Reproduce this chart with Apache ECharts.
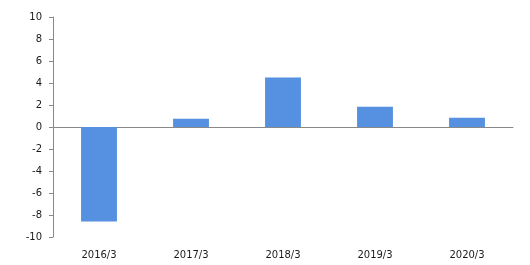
<!DOCTYPE html>
<html>
<head>
<meta charset="utf-8">
<style>html,body{margin:0;padding:0;background:#fff;}#c{width:530px;height:265px;}</style>
<script src="https://cdn.jsdelivr.net/npm/echarts@6/dist/echarts.min.js"></script>
</head>
<body>
<div id="c"></div>
<script>
var categories = ['2016/3', '2017/3', '2018/3', '2019/3', '2020/3'];
var values = [-8.6, 0.75, 4.5, 1.85, 0.85];
var yMin = -10, yMax = 10, yStep = 2;

var chart = echarts.init(document.getElementById('c'));
var font = 'DejaVu Sans, Verdana, sans-serif';
chart.setOption({
  animation: false,
  grid: {left: 53, right: 17, top: 17, bottom: 28, containLabel: false},
  xAxis: [{
    type: 'category', data: categories, position: 'bottom',
    axisLine: {show: false, onZero: false}, axisTick: {show: false},
    axisLabel: {color: '#1a1a1a', fontSize: 10, fontFamily: font, margin: 13}
  }, {
    type: 'category', data: categories, position: 'bottom',
    axisLine: {show: true, onZero: true, lineStyle: {color: '#898989', width: 1}},
    axisTick: {show: false}, axisLabel: {show: false}
  }],
  yAxis: {
    type: 'value', min: yMin, max: yMax, interval: yStep,
    axisLine: {show: true, lineStyle: {color: '#898989', width: 1}},
    axisTick: {show: true, length: 4, lineStyle: {color: '#898989'}},
    splitLine: {show: false},
    axisLabel: {color: '#1a1a1a', fontSize: 10, fontFamily: font, margin: 11}
  },
  series: [{
    type: 'bar', data: values, xAxisIndex: 0, barWidth: '39%',
    itemStyle: {color: '#5591e0'}
  }]
});
</script>
</body>
</html>
